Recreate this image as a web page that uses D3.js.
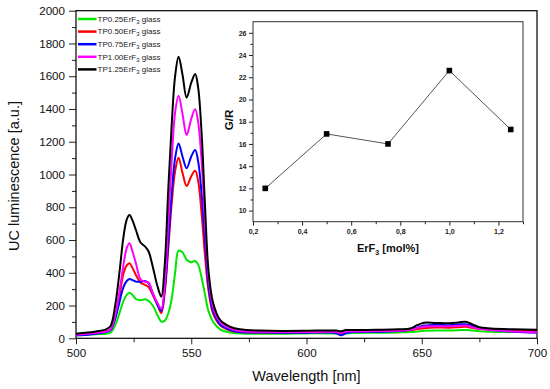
<!DOCTYPE html>
<html><head><meta charset="utf-8">
<script src="https://cdn.jsdelivr.net/npm/d3@7"></script>
<style>
html,body{margin:0;padding:0;background:#fff;}
svg{display:block;font-family:Arial,"Liberation Sans",sans-serif;}
</style></head>
<body><svg id="chart" width="550" height="389"></svg>
<script>
// ---------- DATA ----------
const wavelength = [500,505,510,513,515,517,519,520.5,522,523.2,524.5,526,528,530,531.5,533.3,535.4,537,538.5,540,541.5,543,544.5,546.2,548,550,551.7,553,554.5,556,557.5,559.5,562.5,567,571,580,590,600,610,613,615,617,620,630,640,645,648,651,656,662,666,669,672,675,680,690,700];
const tp025 = [18,22,26,28,35,80,160,225,265,278,265,240,233,238,228,200,140,102,108,150,240,400,535,525,480,465,472,450,370,265,165,100,55,35,30,28,28,30,30,29,27,30,32,34,36,38,42,46,48,47,49,51,47,43,40,38,38];
const tp050 = [22,28,36,42,55,130,270,390,445,458,430,386,340,326,312,264,203,153,280,540,820,1020,1103,1010,930,990,1023,960,760,500,290,150,80,48,38,36,36,37,38,37,32,40,42,44,46,50,56,62,66,65,68,70,64,58,54,48,46];
const tp075 = [18,22,30,38,50,120,230,310,350,362,355,346,345,350,335,275,203,168,300,580,880,1100,1190,1110,1038,1110,1150,1080,880,590,320,165,85,50,38,35,34,34,35,30,18,30,38,40,44,52,65,78,82,80,84,86,75,62,52,40,34];
const tp100 = [22,28,36,42,55,140,300,440,550,580,530,458,360,345,340,275,214,180,330,700,1080,1380,1481,1370,1241,1340,1398,1320,1080,700,370,190,100,60,45,40,38,38,40,38,33,42,42,44,46,52,62,72,74,73,76,78,68,58,50,42,36];
const tp125 = [28,35,45,55,75,200,420,610,725,753,720,661,585,560,530,437,315,255,450,900,1300,1600,1719,1610,1469,1560,1614,1530,1250,800,410,215,112,70,55,47,45,46,48,47,43,50,50,52,55,60,80,95,94,92,97,101,85,67,60,55,52];
const seriesNames = ["TP0.25ErF3 glass","TP0.50ErF3 glass","TP0.75ErF3 glass","TP1.00ErF3 glass","TP1.25ErF3 glass"];
const seriesColors = ["#00e600","#ff0000","#0000ff","#ff00ff","#000000"];
const xTicks = [500,550,600,650,700];
const yTicks = [0,200,400,600,800,1000,1200,1400,1600,1800,2000];

// inset
const erConc = [0.25,0.5,0.75,1.0,1.25];
const grRatio = [12.0,16.9,16.0,22.6,17.3];
const insetXTicks = [0.2,0.4,0.6,0.8,1.0,1.2];
const insetYTicks = [10,12,14,16,18,20,22,24,26];

// ---------- MAIN CHART ----------
const svg = d3.select("#chart");
const L=76, R=537, T=10.7, B=338.3;
const x = d3.scaleLinear().domain([500,700]).range([L,R]);
const y = d3.scaleLinear().domain([0,2000]).range([B,T]);
const intFmt = d3.format("d");

// minor ticks
svg.append("g").attr("transform",`translate(0,${B})`)
  .call(d3.axisBottom(x).tickValues(d3.range(525,700,50)).tickSize(4).tickFormat("").tickSizeOuter(0))
  .call(g=>g.select(".domain").remove());
svg.append("g").attr("transform",`translate(${L},0)`)
  .call(d3.axisLeft(y).tickValues(d3.range(100,2000,200)).tickSize(4).tickFormat("").tickSizeOuter(0))
  .call(g=>g.select(".domain").remove());

// major axes
const xa = svg.append("g").attr("transform",`translate(0,${B})`)
  .call(d3.axisBottom(x).tickValues(xTicks).tickSize(6).tickPadding(4).tickFormat(intFmt).tickSizeOuter(0));
xa.selectAll("text").attr("font-size","11.6px").attr("fill","#111").attr("font-family","Arial, Liberation Sans, sans-serif");
xa.select(".domain").remove();
const ya = svg.append("g").attr("transform",`translate(${L},0)`)
  .call(d3.axisLeft(y).tickValues(yTicks).tickSize(7).tickPadding(4).tickFormat(intFmt).tickSizeOuter(0));
ya.selectAll("text").attr("font-size","11.6px").attr("fill","#111").attr("font-family","Arial, Liberation Sans, sans-serif");
ya.select(".domain").remove();

// frame
svg.append("rect").attr("x",L).attr("y",T).attr("width",R-L).attr("height",B-T)
  .attr("fill","none").attr("stroke","#000").attr("stroke-width",1.2);

// curves
const allSeries = [tp025,tp050,tp075,tp100,tp125];
const line = d3.line().x((d,i)=>x(wavelength[i])).y(d=>y(d)).curve(d3.curveCatmullRom.alpha(0.5));
allSeries.forEach((s,k)=>{
  svg.append("path").datum(s).attr("d",line).attr("fill","none")
    .attr("stroke",seriesColors[k]).attr("stroke-width",2).attr("stroke-linejoin","round");
});

// legend
const lg = svg.append("g");
seriesNames.forEach((n,k)=>{
  const yy = 19 + k*12.6;
  lg.append("line").attr("x1",78).attr("x2",96.5).attr("y1",yy).attr("y2",yy)
    .attr("stroke",seriesColors[k]).attr("stroke-width",2.5);
  const t = lg.append("text").attr("x",97.5).attr("y",yy+2.8).attr("font-size","8px").attr("fill","#222");
  const m = n.match(/^(TP[\d.]+ErF)3( glass)$/);
  t.append("tspan").text(m[1]);
  t.append("tspan").attr("dy",2).attr("font-size","6px").text("3");
  t.append("tspan").attr("dy",-2).text(m[2]);
});

// axis titles
svg.append("text").attr("x",(L+R)/2).attr("y",381).attr("text-anchor","middle")
  .attr("font-size","14.5px").attr("fill","#111").text("Wavelength [nm]");
svg.append("text").attr("transform",`translate(19,176) rotate(-90)`).attr("text-anchor","middle")
  .attr("font-size","14.5px").attr("fill","#111").text("UC luminescence [a.u.]");

// ---------- INSET ----------
const iL=253, iR=523, iT=21.7, iB=221.7;
const ix = d3.scaleLinear().domain([0.2,1.3]).range([iL,iR]);
const iy = d3.scaleLinear().domain([9,27]).range([iB,iT]);
const commaFmt = d3.formatLocale({decimal:",",thousands:".",grouping:[3],currency:["",""]}).format(".1f");

svg.append("rect").attr("x",iL).attr("y",iT).attr("width",iR-iL).attr("height",iB-iT)
  .attr("fill","#fff").attr("stroke","#333").attr("stroke-width",1);

svg.append("g").attr("transform",`translate(0,${iB})`)
  .call(d3.axisBottom(ix).tickValues(d3.range(0.3,1.31,0.2)).tickSize(2.5).tickFormat("").tickSizeOuter(0))
  .call(g=>g.select(".domain").remove());
svg.append("g").attr("transform",`translate(${iL},0)`)
  .call(d3.axisLeft(iy).tickValues(d3.range(11,27,2)).tickSize(2.5).tickFormat("").tickSizeOuter(0))
  .call(g=>g.select(".domain").remove());

const ixa = svg.append("g").attr("transform",`translate(0,${iB})`)
  .call(d3.axisBottom(ix).tickValues(insetXTicks).tickSize(4).tickPadding(3).tickFormat(commaFmt).tickSizeOuter(0));
ixa.select(".domain").remove();
ixa.selectAll("text").attr("font-size","7px").attr("font-weight","bold").attr("fill","#222").attr("font-family","Arial, Liberation Sans, sans-serif");
const iya = svg.append("g").attr("transform",`translate(${iL},0)`)
  .call(d3.axisLeft(iy).tickValues(insetYTicks).tickSize(4).tickPadding(2.5).tickFormat(intFmt).tickSizeOuter(0));
iya.select(".domain").remove();
iya.selectAll("text").attr("font-size","7px").attr("font-weight","bold").attr("fill","#222").attr("font-family","Arial, Liberation Sans, sans-serif");
svg.selectAll(".tick line").attr("stroke","#222");

const iline = d3.line().x((d,i)=>ix(erConc[i])).y(d=>iy(d));
svg.append("path").datum(grRatio).attr("d",iline).attr("fill","none").attr("stroke","#555").attr("stroke-width",1);
svg.append("g").selectAll("rect").data(grRatio).join("rect")
  .attr("x",(d,i)=>ix(erConc[i])-2.8).attr("y",d=>iy(d)-2.8).attr("width",5.6).attr("height",5.6).attr("fill","#000");

svg.append("text").attr("transform","translate(233,120) rotate(-90)").attr("text-anchor","middle")
  .attr("font-size","11.5px").attr("font-weight","bold").attr("fill","#111").text("G/R");
const xl = svg.append("text").attr("x",388).attr("y",252).attr("text-anchor","middle")
  .attr("font-size","11px").attr("font-weight","bold").attr("fill","#111");
xl.append("tspan").text("ErF");
xl.append("tspan").attr("dy",3).attr("font-size","7px").text("3");
xl.append("tspan").attr("dy",-3).text(" [mol%]");
</script></body></html>
